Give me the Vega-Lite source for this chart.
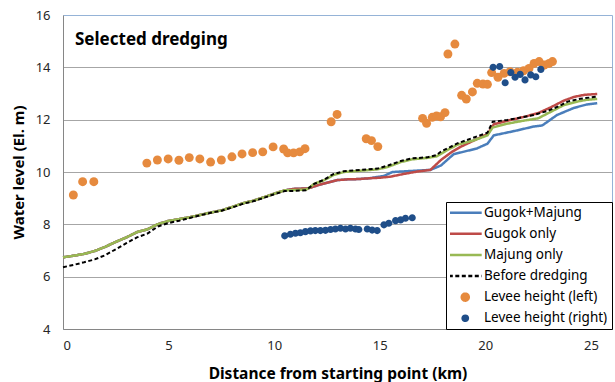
{
  "$schema": "https://vega.github.io/schema/vega-lite/v6.json",
  "width": 549,
  "height": 314,
  "autosize": {"type": "none"},
  "padding": {"left": 63, "top": 15, "right": 3, "bottom": 53},
  "background": "white",
  "config": {
    "font": "Noto Sans",
    "view": {"stroke": "#95B3D7", "strokeWidth": 1}
  },
  "title": {
    "text": "Selected dredging",
    "anchor": "start",
    "frame": "group",
    "orient": "top",
    "offset": -40,
    "dx": 12,
    "fontSize": 17,
    "fontWeight": "bold",
    "font": "Noto Sans",
    "color": "black"
  },
  "datasets": {
    "lines": [
      {"series": "Gugok+Majung", "km": 0, "wl": 6.74}, {"series": "Gugok+Majung", "km": 0.5, "wl": 6.8}, {"series": "Gugok+Majung", "km": 1, "wl": 6.87}, {"series": "Gugok+Majung", "km": 1.5, "wl": 6.98}, {"series": "Gugok+Majung", "km": 2, "wl": 7.14}, {"series": "Gugok+Majung", "km": 2.5, "wl": 7.33}, {"series": "Gugok+Majung", "km": 3, "wl": 7.5}, {"series": "Gugok+Majung", "km": 3.5, "wl": 7.7}, {"series": "Gugok+Majung", "km": 4, "wl": 7.81}, {"series": "Gugok+Majung", "km": 4.5, "wl": 8.01}, {"series": "Gugok+Majung", "km": 5, "wl": 8.13}, {"series": "Gugok+Majung", "km": 5.5, "wl": 8.2}, {"series": "Gugok+Majung", "km": 6, "wl": 8.27}, {"series": "Gugok+Majung", "km": 6.5, "wl": 8.36}, {"series": "Gugok+Majung", "km": 7, "wl": 8.45}, {"series": "Gugok+Majung", "km": 7.5, "wl": 8.53}, {"series": "Gugok+Majung", "km": 8, "wl": 8.66}, {"series": "Gugok+Majung", "km": 8.5, "wl": 8.8}, {"series": "Gugok+Majung", "km": 9, "wl": 8.9}, {"series": "Gugok+Majung", "km": 9.5, "wl": 9.03}, {"series": "Gugok+Majung", "km": 10, "wl": 9.17}, {"series": "Gugok+Majung", "km": 10.5, "wl": 9.3}, {"series": "Gugok+Majung", "km": 11, "wl": 9.36}, {"series": "Gugok+Majung", "km": 11.6, "wl": 9.37}, {"series": "Gugok+Majung", "km": 11.9, "wl": 9.45}, {"series": "Gugok+Majung", "km": 12.3, "wl": 9.55}, {"series": "Gugok+Majung", "km": 12.7, "wl": 9.63}, {"series": "Gugok+Majung", "km": 13, "wl": 9.69}, {"series": "Gugok+Majung", "km": 13.5, "wl": 9.72}, {"series": "Gugok+Majung", "km": 14, "wl": 9.73}, {"series": "Gugok+Majung", "km": 14.5, "wl": 9.76}, {"series": "Gugok+Majung", "km": 15.2, "wl": 9.85}, {"series": "Gugok+Majung", "km": 15.6, "wl": 10.0}, {"series": "Gugok+Majung", "km": 17.4, "wl": 10.08}, {"series": "Gugok+Majung", "km": 17.9, "wl": 10.25}, {"series": "Gugok+Majung", "km": 18.5, "wl": 10.68}, {"series": "Gugok+Majung", "km": 19, "wl": 10.78}, {"series": "Gugok+Majung", "km": 19.6, "wl": 10.9}, {"series": "Gugok+Majung", "km": 20.1, "wl": 11.08}, {"series": "Gugok+Majung", "km": 20.4, "wl": 11.4}, {"series": "Gugok+Majung", "km": 21.4, "wl": 11.57}, {"series": "Gugok+Majung", "km": 22.3, "wl": 11.74}, {"series": "Gugok+Majung", "km": 22.7, "wl": 11.78}, {"series": "Gugok+Majung", "km": 23.4, "wl": 12.18}, {"series": "Gugok+Majung", "km": 24.2, "wl": 12.45}, {"series": "Gugok+Majung", "km": 24.8, "wl": 12.58}, {"series": "Gugok+Majung", "km": 25.3, "wl": 12.63},
      {"series": "Gugok only", "km": 0, "wl": 6.74}, {"series": "Gugok only", "km": 0.5, "wl": 6.8}, {"series": "Gugok only", "km": 1, "wl": 6.87}, {"series": "Gugok only", "km": 1.5, "wl": 6.98}, {"series": "Gugok only", "km": 2, "wl": 7.14}, {"series": "Gugok only", "km": 2.5, "wl": 7.33}, {"series": "Gugok only", "km": 3, "wl": 7.5}, {"series": "Gugok only", "km": 3.5, "wl": 7.7}, {"series": "Gugok only", "km": 4, "wl": 7.81}, {"series": "Gugok only", "km": 4.5, "wl": 8.01}, {"series": "Gugok only", "km": 5, "wl": 8.13}, {"series": "Gugok only", "km": 5.5, "wl": 8.2}, {"series": "Gugok only", "km": 6, "wl": 8.27}, {"series": "Gugok only", "km": 6.5, "wl": 8.36}, {"series": "Gugok only", "km": 7, "wl": 8.45}, {"series": "Gugok only", "km": 7.5, "wl": 8.53}, {"series": "Gugok only", "km": 8, "wl": 8.66}, {"series": "Gugok only", "km": 8.5, "wl": 8.8}, {"series": "Gugok only", "km": 9, "wl": 8.9}, {"series": "Gugok only", "km": 9.5, "wl": 9.03}, {"series": "Gugok only", "km": 10, "wl": 9.17}, {"series": "Gugok only", "km": 10.5, "wl": 9.3}, {"series": "Gugok only", "km": 11, "wl": 9.36}, {"series": "Gugok only", "km": 11.6, "wl": 9.37}, {"series": "Gugok only", "km": 11.9, "wl": 9.45}, {"series": "Gugok only", "km": 12.3, "wl": 9.55}, {"series": "Gugok only", "km": 12.7, "wl": 9.63}, {"series": "Gugok only", "km": 13, "wl": 9.69}, {"series": "Gugok only", "km": 13.5, "wl": 9.72}, {"series": "Gugok only", "km": 14, "wl": 9.73}, {"series": "Gugok only", "km": 14.5, "wl": 9.76}, {"series": "Gugok only", "km": 15, "wl": 9.78}, {"series": "Gugok only", "km": 15.5, "wl": 9.82}, {"series": "Gugok only", "km": 16.1, "wl": 9.92}, {"series": "Gugok only", "km": 16.8, "wl": 10.02}, {"series": "Gugok only", "km": 17.4, "wl": 10.08}, {"series": "Gugok only", "km": 17.9, "wl": 10.46}, {"series": "Gugok only", "km": 18.4, "wl": 10.76}, {"series": "Gugok only", "km": 18.8, "wl": 10.95}, {"series": "Gugok only", "km": 19.5, "wl": 11.22}, {"series": "Gugok only", "km": 20.1, "wl": 11.45}, {"series": "Gugok only", "km": 20.4, "wl": 11.82}, {"series": "Gugok only", "km": 21, "wl": 11.95}, {"series": "Gugok only", "km": 21.8, "wl": 12.1}, {"series": "Gugok only", "km": 22.5, "wl": 12.25}, {"series": "Gugok only", "km": 23.1, "wl": 12.47}, {"series": "Gugok only", "km": 23.7, "wl": 12.72}, {"series": "Gugok only", "km": 24.2, "wl": 12.87}, {"series": "Gugok only", "km": 24.7, "wl": 12.95}, {"series": "Gugok only", "km": 25.3, "wl": 12.98},
      {"series": "Majung only", "km": 0, "wl": 6.74}, {"series": "Majung only", "km": 0.5, "wl": 6.8}, {"series": "Majung only", "km": 1, "wl": 6.87}, {"series": "Majung only", "km": 1.5, "wl": 6.98}, {"series": "Majung only", "km": 2, "wl": 7.14}, {"series": "Majung only", "km": 2.5, "wl": 7.33}, {"series": "Majung only", "km": 3, "wl": 7.5}, {"series": "Majung only", "km": 3.5, "wl": 7.7}, {"series": "Majung only", "km": 4, "wl": 7.81}, {"series": "Majung only", "km": 4.5, "wl": 8.01}, {"series": "Majung only", "km": 5, "wl": 8.13}, {"series": "Majung only", "km": 5.5, "wl": 8.2}, {"series": "Majung only", "km": 6, "wl": 8.27}, {"series": "Majung only", "km": 6.5, "wl": 8.36}, {"series": "Majung only", "km": 7, "wl": 8.45}, {"series": "Majung only", "km": 7.5, "wl": 8.53}, {"series": "Majung only", "km": 8, "wl": 8.66}, {"series": "Majung only", "km": 8.5, "wl": 8.8}, {"series": "Majung only", "km": 9, "wl": 8.9}, {"series": "Majung only", "km": 9.5, "wl": 9.03}, {"series": "Majung only", "km": 10, "wl": 9.17}, {"series": "Majung only", "km": 10.5, "wl": 9.3}, {"series": "Majung only", "km": 11, "wl": 9.31}, {"series": "Majung only", "km": 11.5, "wl": 9.33}, {"series": "Majung only", "km": 11.6, "wl": 9.36}, {"series": "Majung only", "km": 11.9, "wl": 9.55}, {"series": "Majung only", "km": 12.35, "wl": 9.68}, {"series": "Majung only", "km": 12.8, "wl": 9.88}, {"series": "Majung only", "km": 13.3, "wl": 10.0}, {"series": "Majung only", "km": 14.1, "wl": 10.05}, {"series": "Majung only", "km": 14.9, "wl": 10.1}, {"series": "Majung only", "km": 15.4, "wl": 10.2}, {"series": "Majung only", "km": 16, "wl": 10.38}, {"series": "Majung only", "km": 16.5, "wl": 10.48}, {"series": "Majung only", "km": 17.25, "wl": 10.54}, {"series": "Majung only", "km": 17.7, "wl": 10.6}, {"series": "Majung only", "km": 18.2, "wl": 10.84}, {"series": "Majung only", "km": 18.7, "wl": 11.05}, {"series": "Majung only", "km": 19.5, "wl": 11.22}, {"series": "Majung only", "km": 20.1, "wl": 11.4}, {"series": "Majung only", "km": 20.35, "wl": 11.7}, {"series": "Majung only", "km": 21, "wl": 11.84}, {"series": "Majung only", "km": 21.8, "wl": 11.96}, {"series": "Majung only", "km": 22.5, "wl": 12.05}, {"series": "Majung only", "km": 23.1, "wl": 12.3}, {"series": "Majung only", "km": 23.7, "wl": 12.55}, {"series": "Majung only", "km": 24.4, "wl": 12.7}, {"series": "Majung only", "km": 24.8, "wl": 12.76}, {"series": "Majung only", "km": 25.3, "wl": 12.79},
      {"series": "Before dredging", "km": 0, "wl": 6.36}, {"series": "Before dredging", "km": 0.5, "wl": 6.45}, {"series": "Before dredging", "km": 1, "wl": 6.55}, {"series": "Before dredging", "km": 1.5, "wl": 6.66}, {"series": "Before dredging", "km": 2, "wl": 6.82}, {"series": "Before dredging", "km": 2.5, "wl": 7.05}, {"series": "Before dredging", "km": 3, "wl": 7.28}, {"series": "Before dredging", "km": 3.5, "wl": 7.5}, {"series": "Before dredging", "km": 4, "wl": 7.65}, {"series": "Before dredging", "km": 4.5, "wl": 7.92}, {"series": "Before dredging", "km": 5, "wl": 8.05}, {"series": "Before dredging", "km": 5.5, "wl": 8.14}, {"series": "Before dredging", "km": 6, "wl": 8.24}, {"series": "Before dredging", "km": 6.5, "wl": 8.35}, {"series": "Before dredging", "km": 7, "wl": 8.44}, {"series": "Before dredging", "km": 7.5, "wl": 8.52}, {"series": "Before dredging", "km": 8, "wl": 8.64}, {"series": "Before dredging", "km": 8.5, "wl": 8.78}, {"series": "Before dredging", "km": 9, "wl": 8.88}, {"series": "Before dredging", "km": 9.5, "wl": 9.01}, {"series": "Before dredging", "km": 10, "wl": 9.15}, {"series": "Before dredging", "km": 10.5, "wl": 9.27}, {"series": "Before dredging", "km": 11, "wl": 9.28}, {"series": "Before dredging", "km": 11.5, "wl": 9.3}, {"series": "Before dredging", "km": 11.6, "wl": 9.36}, {"series": "Before dredging", "km": 11.9, "wl": 9.55}, {"series": "Before dredging", "km": 12.35, "wl": 9.7}, {"series": "Before dredging", "km": 12.8, "wl": 9.92}, {"series": "Before dredging", "km": 13.3, "wl": 10.03}, {"series": "Before dredging", "km": 14.1, "wl": 10.08}, {"series": "Before dredging", "km": 14.9, "wl": 10.13}, {"series": "Before dredging", "km": 15.4, "wl": 10.25}, {"series": "Before dredging", "km": 16, "wl": 10.42}, {"series": "Before dredging", "km": 16.5, "wl": 10.52}, {"series": "Before dredging", "km": 17.25, "wl": 10.56}, {"series": "Before dredging", "km": 17.7, "wl": 10.65}, {"series": "Before dredging", "km": 17.9, "wl": 10.78}, {"series": "Before dredging", "km": 18.7, "wl": 11.1}, {"series": "Before dredging", "km": 19.5, "wl": 11.33}, {"series": "Before dredging", "km": 20.1, "wl": 11.5}, {"series": "Before dredging", "km": 20.35, "wl": 11.92}, {"series": "Before dredging", "km": 21.05, "wl": 11.99}, {"series": "Before dredging", "km": 21.8, "wl": 12.1}, {"series": "Before dredging", "km": 22.3, "wl": 12.18}, {"series": "Before dredging", "km": 23, "wl": 12.35}, {"series": "Before dredging", "km": 23.5, "wl": 12.52}, {"series": "Before dredging", "km": 23.9, "wl": 12.69}, {"series": "Before dredging", "km": 24.5, "wl": 12.8}, {"series": "Before dredging", "km": 25.3, "wl": 12.88}
    ],
    "levee": [
      {"series": "Levee height (left)", "km": 0.49, "wl": 9.12}, {"series": "Levee height (left)", "km": 0.93, "wl": 9.63}, {"series": "Levee height (left)", "km": 1.46, "wl": 9.63}, {"series": "Levee height (left)", "km": 3.97, "wl": 10.34}, {"series": "Levee height (left)", "km": 4.47, "wl": 10.46}, {"series": "Levee height (left)", "km": 4.98, "wl": 10.5}, {"series": "Levee height (left)", "km": 5.49, "wl": 10.45}, {"series": "Levee height (left)", "km": 5.98, "wl": 10.55}, {"series": "Levee height (left)", "km": 6.48, "wl": 10.5}, {"series": "Levee height (left)", "km": 6.99, "wl": 10.38}, {"series": "Levee height (left)", "km": 7.5, "wl": 10.46}, {"series": "Levee height (left)", "km": 8.0, "wl": 10.58}, {"series": "Levee height (left)", "km": 8.48, "wl": 10.69}, {"series": "Levee height (left)", "km": 8.98, "wl": 10.74}, {"series": "Levee height (left)", "km": 9.46, "wl": 10.77}, {"series": "Levee height (left)", "km": 9.95, "wl": 10.96}, {"series": "Levee height (left)", "km": 10.45, "wl": 10.88}, {"series": "Levee height (left)", "km": 10.64, "wl": 10.73}, {"series": "Levee height (left)", "km": 10.92, "wl": 10.73}, {"series": "Levee height (left)", "km": 11.21, "wl": 10.77}, {"series": "Levee height (left)", "km": 11.46, "wl": 10.89}, {"series": "Levee height (left)", "km": 12.7, "wl": 11.92}, {"series": "Levee height (left)", "km": 12.98, "wl": 12.2}, {"series": "Levee height (left)", "km": 14.36, "wl": 11.27}, {"series": "Levee height (left)", "km": 14.61, "wl": 11.2}, {"series": "Levee height (left)", "km": 14.91, "wl": 10.97}, {"series": "Levee height (left)", "km": 17.03, "wl": 12.05}, {"series": "Levee height (left)", "km": 17.22, "wl": 11.86}, {"series": "Levee height (left)", "km": 17.49, "wl": 12.09}, {"series": "Levee height (left)", "km": 17.69, "wl": 12.14}, {"series": "Levee height (left)", "km": 17.88, "wl": 12.11}, {"series": "Levee height (left)", "km": 18.09, "wl": 12.27}, {"series": "Levee height (left)", "km": 18.23, "wl": 14.51}, {"series": "Levee height (left)", "km": 18.56, "wl": 14.89}, {"series": "Levee height (left)", "km": 18.88, "wl": 12.93}, {"series": "Levee height (left)", "km": 19.1, "wl": 12.79}, {"series": "Levee height (left)", "km": 19.39, "wl": 13.06}, {"series": "Levee height (left)", "km": 19.62, "wl": 13.39}, {"series": "Levee height (left)", "km": 19.89, "wl": 13.36}, {"series": "Levee height (left)", "km": 20.1, "wl": 13.35}, {"series": "Levee height (left)", "km": 20.3, "wl": 13.8}, {"series": "Levee height (left)", "km": 20.6, "wl": 13.62}, {"series": "Levee height (left)", "km": 20.89, "wl": 13.77}, {"series": "Levee height (left)", "km": 21.17, "wl": 13.83}, {"series": "Levee height (left)", "km": 21.52, "wl": 13.81}, {"series": "Levee height (left)", "km": 21.81, "wl": 13.87}, {"series": "Levee height (left)", "km": 22.07, "wl": 13.96}, {"series": "Levee height (left)", "km": 22.31, "wl": 14.15}, {"series": "Levee height (left)", "km": 22.55, "wl": 14.22}, {"series": "Levee height (left)", "km": 22.79, "wl": 14.09}, {"series": "Levee height (left)", "km": 23.02, "wl": 14.15}, {"series": "Levee height (left)", "km": 23.18, "wl": 14.22},
      {"series": "Levee height (right)", "km": 10.5, "wl": 7.56}, {"series": "Levee height (right)", "km": 10.77, "wl": 7.62}, {"series": "Levee height (right)", "km": 11.01, "wl": 7.66}, {"series": "Levee height (right)", "km": 11.24, "wl": 7.68}, {"series": "Levee height (right)", "km": 11.48, "wl": 7.72}, {"series": "Levee height (right)", "km": 11.72, "wl": 7.75}, {"series": "Levee height (right)", "km": 11.95, "wl": 7.76}, {"series": "Levee height (right)", "km": 12.19, "wl": 7.76}, {"series": "Levee height (right)", "km": 12.43, "wl": 7.77}, {"series": "Levee height (right)", "km": 12.67, "wl": 7.8}, {"series": "Levee height (right)", "km": 12.9, "wl": 7.82}, {"series": "Levee height (right)", "km": 13.14, "wl": 7.85}, {"series": "Levee height (right)", "km": 13.38, "wl": 7.82}, {"series": "Levee height (right)", "km": 13.61, "wl": 7.85}, {"series": "Levee height (right)", "km": 13.85, "wl": 7.82}, {"series": "Levee height (right)", "km": 14.01, "wl": 7.8}, {"series": "Levee height (right)", "km": 14.41, "wl": 7.82}, {"series": "Levee height (right)", "km": 14.64, "wl": 7.78}, {"series": "Levee height (right)", "km": 14.88, "wl": 7.76}, {"series": "Levee height (right)", "km": 15.2, "wl": 7.98}, {"series": "Levee height (right)", "km": 15.43, "wl": 8.04}, {"series": "Levee height (right)", "km": 15.75, "wl": 8.14}, {"series": "Levee height (right)", "km": 15.99, "wl": 8.17}, {"series": "Levee height (right)", "km": 16.22, "wl": 8.23}, {"series": "Levee height (right)", "km": 16.54, "wl": 8.25},
      {"series": "Levee height (right)", "km": 20.37, "wl": 14.0}, {"series": "Levee height (right)", "km": 20.68, "wl": 14.03}, {"series": "Levee height (right)", "km": 20.94, "wl": 13.41}, {"series": "Levee height (right)", "km": 21.21, "wl": 13.8}, {"series": "Levee height (right)", "km": 21.41, "wl": 13.62}, {"series": "Levee height (right)", "km": 21.65, "wl": 13.73}, {"series": "Levee height (right)", "km": 21.88, "wl": 13.52}, {"series": "Levee height (right)", "km": 22.15, "wl": 13.71}, {"series": "Levee height (right)", "km": 22.39, "wl": 13.64}, {"series": "Levee height (right)", "km": 22.63, "wl": 13.92}
    ]
  },
  "encoding": {
    "x": {
      "field": "km", "type": "quantitative",
      "scale": {"domain": [0, 26], "nice": false, "zero": false},
      "axis": {
        "title": "Distance from starting point (km)",
        "values": [0, 5, 10, 15, 20, 25],
        "grid": false, "ticks": false,
        "domainColor": "#868686",
        "labelFont": "Noto Sans", "labelFontSize": 13, "labelColor": "#262626", "labelPadding": 10,
        "titleFont": "Noto Sans", "titleFontSize": 15.5, "titleFontWeight": "bold", "titleColor": "black", "titlePadding": 14
      }
    },
    "y": {
      "field": "wl", "type": "quantitative",
      "scale": {"domain": [4, 16], "nice": false, "zero": false},
      "axis": {
        "title": "Water level (El. m)",
        "values": [4, 6, 8, 10, 12, 14, 16],
        "grid": true,
        "gridColor": {"condition": {"test": "datum.value >= 16 || datum.value <= 4", "value": "transparent"}, "value": "#A6A6A6"},
        "ticks": false,
        "domainColor": "#868686",
        "labelFont": "Noto Sans", "labelFontSize": 13, "labelColor": "#262626", "labelPadding": 13,
        "titleFont": "Noto Sans", "titleFontSize": 15, "titleFontWeight": "bold", "titleColor": "black", "titlePadding": 9
      }
    },
    "color": {
      "field": "series", "type": "nominal",
      "scale": {
        "domain": ["Gugok+Majung", "Gugok only", "Majung only", "Before dredging", "Levee height (left)", "Levee height (right)"],
        "range": ["#4A7EBB", "#BE4B48", "#98B954", "#000000", "#E68A3E", "#1F4E89"]
      },
      "legend": {
        "title": null,
        "orient": "bottom-right",
        "offset": 0,
        "strokeColor": "black",
        "fillColor": "white",
        "padding": 4,
        "labelFont": "Noto Sans",
        "labelFontSize": 13.5,
        "labelColor": "black",
        "symbolSize": 49,
        "symbolStrokeWidth": 2.5,
        "clipHeight": 13.5,
        "rowPadding": 6.1,
        "symbolOffset": 8.5,
        "labelOffset": 12
      }
    }
  },
  "layer": [
    {
      "data": {"name": "levee"},
      "transform": [{"filter": "datum.series == 'Levee height (left)'"}],
      "mark": {"type": "point", "filled": true, "size": 80, "opacity": 1},
      "encoding": {
        "shape": {"field": "series", "type": "nominal", "scale": {"domain": ["Gugok+Majung", "Gugok only", "Majung only", "Before dredging", "Levee height (left)", "Levee height (right)"], "range": ["M-4.7,0H4.7", "M-4.7,0H4.7", "M-4.7,0H4.7", "M-4.7,0H4.7", "circle", "M-0.75,0A0.75,0.75 0 1,0 0.75,0A0.75,0.75 0 1,0 -0.75,0Z"]}, "legend": {"title": null}}
      }
    },
    {
      "data": {"name": "levee"},
      "transform": [{"filter": "datum.series == 'Levee height (right)'"}],
      "mark": {"type": "point", "filled": true, "size": 90, "opacity": 1},
      "encoding": {
        "shape": {"field": "series", "type": "nominal", "legend": {"title": null}}
      }
    },
    {
      "data": {"name": "lines"},
      "transform": [{"filter": "datum.series == 'Gugok+Majung'"}],
      "mark": {"type": "line", "strokeWidth": 2.5},
      "encoding": {
        "strokeDash": {"field": "series", "type": "nominal", "scale": {"domain": ["Gugok+Majung", "Gugok only", "Majung only", "Before dredging", "Levee height (left)", "Levee height (right)"], "range": [[1, 0], [1, 0], [1, 0], [4, 2.5], [1, 0], [1, 0]]}, "legend": {"title": null}}
      }
    },
    {
      "data": {"name": "lines"},
      "transform": [{"filter": "datum.series == 'Gugok only'"}],
      "mark": {"type": "line", "strokeWidth": 2.5},
      "encoding": {"strokeDash": {"field": "series", "type": "nominal", "legend": {"title": null}}}
    },
    {
      "data": {"name": "lines"},
      "transform": [{"filter": "datum.series == 'Majung only'"}],
      "mark": {"type": "line", "strokeWidth": 2.5},
      "encoding": {"strokeDash": {"field": "series", "type": "nominal", "legend": {"title": null}}}
    },
    {
      "data": {"name": "lines"},
      "transform": [{"filter": "datum.series == 'Before dredging'"}],
      "mark": {"type": "line", "strokeWidth": 2},
      "encoding": {"strokeDash": {"field": "series", "type": "nominal", "legend": {"title": null}}}
    }
  ]
}
